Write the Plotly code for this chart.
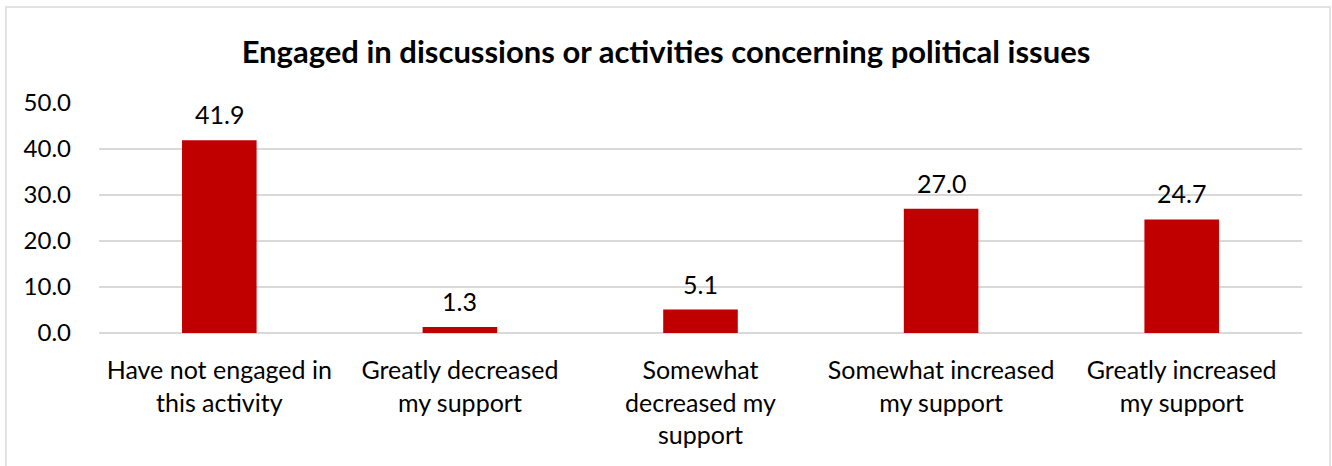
import plotly.graph_objects as go

categories = ["Have not engaged in<br>this activity", "Greatly decreased<br>my support",
              "Somewhat<br>decreased my<br>support", "Somewhat increased<br>my support",
              "Greatly increased<br>my support"]
values = [41.9, 1.3, 5.1, 27.0, 24.7]
tick_vals = [0, 10, 20, 30, 40, 50]
tick_text = ["0.0", "10.0", "20.0", "30.0", "40.0", "50.0"]
title = "Engaged in discussions or activities concerning political issues"

FONT = "Lato, Carlito, Calibri, sans-serif"

fig = go.Figure(go.Bar(
    x=categories, y=values,
    marker=dict(color="#C00000", line=dict(width=0)),
    cliponaxis=False,
))

for c, v in zip(categories, values):
    fig.add_annotation(x=c, y=v, text=f"{v:.1f}", showarrow=False,
                       yanchor="bottom", yshift=9,
                       font=dict(size=25, color="#000000", family=FONT))

L, R, T, B = 99, 30, 103, 133
W, H = 1332, 466
pw, ph = W - L - R, H - T - B

fig.update_layout(
    width=W, height=H,
    margin=dict(l=L, r=R, t=T, b=B, pad=0),
    paper_bgcolor="white", plot_bgcolor="white",
    bargap=0.69,
    showlegend=False,
    font=dict(family=FONT, size=25, color="#000000"),
    title=dict(text="<b>" + title + "</b>", x=0.5, xanchor="center",
               y=1 - 52 / H, yanchor="middle",
               font=dict(size=31, family=FONT, color="#000000")),
    xaxis=dict(showgrid=False, showline=False, ticks="", tickfont=dict(size=25),
               ticklabelstandoff=20),
    yaxis=dict(range=[0, 50], tickvals=tick_vals, ticktext=tick_text,
               showgrid=True, gridcolor="#D9D9D9", gridwidth=1.5,
               zeroline=True, zerolinecolor="#D9D9D9", zerolinewidth=1.5,
               showline=False, ticks="", tickfont=dict(size=24),
               ticklabelstandoff=27),
    shapes=[dict(type="rect", xref="paper", yref="paper",
                 x0=(6 - L) / pw, x1=(1330 - L) / pw,
                 y0=(H - B - 475) / ph, y1=(H - B - 7) / ph,
                 line=dict(color="#D9D9D9", width=1.5), fillcolor="rgba(0,0,0,0)",
                 layer="below")],
)

fig.write_html("out.html", config={"displayModeBar": False},
               post_script="document.body.style.margin='0px';document.body.style.overflow='hidden';")
